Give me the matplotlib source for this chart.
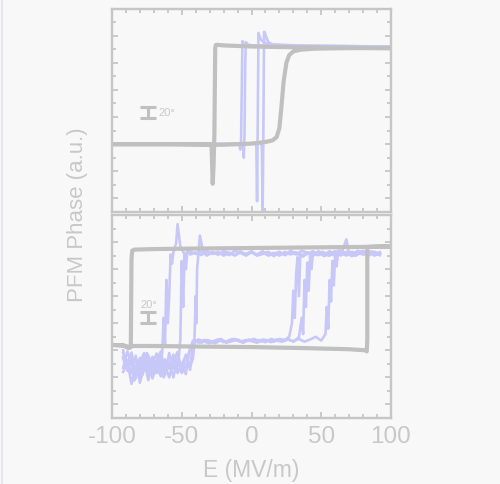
import matplotlib
matplotlib.use("Agg")
import matplotlib.pyplot as plt
from matplotlib.ticker import MultipleLocator
from matplotlib.lines import Line2D

plt.rcParams['font.family'] = ['Liberation Sans', 'DejaVu Sans']

# ---------------- data (E in MV/m, phase in degrees) ----------------
x_ticks = [-100, -50, 0, 50, 100]
x_tick_labels = ["-100", "-50", "0", "50", "100"]

# top panel, grey loop
top_grey = [(100, 277), (60, 278), (20, 279), (0, 280), (-10, 281), (-20, 282),
            (-24, 283), (-25.5, 283), (-26, 278), (-26.3, 200), (-26.6, 120),
            (-27.2, 60), (-27.8, 27), (-28.2, 60), (-28.6, 96), (-29.5, 100),
            (-40, 100), (-70, 100), (-100, 100), (-60, 100), (-30, 99), (-20, 99),
            (-10, 100), (0, 101), (10, 104), (15, 107), (18, 113), (20, 130),
            (21.5, 170), (23, 215), (25, 250), (27, 264), (30, 271), (35, 274),
            (45, 276), (70, 277), (100, 277)]

# top panel, lavender loops
top_lav_1 = [(-100, 100), (-40, 100), (-10, 101), (0, 102), (3, 103), (3.5, 95),
             (4, -5), (4.5, 150), (5, 305), (5.5, 300), (7, 292), (10, 286),
             (15, 283), (30, 281), (100, 280)]
top_lav_2 = [(-100, 100), (-20, 100), (0, 101), (7, 103), (7.5, 90), (8, -22),
             (8.5, 120), (9, 307), (9.5, 306), (10.5, 298), (12, 288), (15, 284),
             (40, 281), (100, 280)]
top_lav_3 = [(100, 280), (20, 281), (0, 282), (-3, 284), (-4, 288), (-4.5, 250),
             (-5, 120), (-5.5, 75), (-6, 95), (-7, 100), (-20, 100), (-100, 100)]
top_lav_4 = [(100, 280), (0, 282), (-5, 283), (-6.5, 290), (-7, 200), (-7.5, 100),
             (-8, 90), (-9, 100), (-100, 100)]

# bottom panel, grey loop
bot_grey = [(-100, 110), (-92, 109), (-88, 104), (-85, 108), (-70, 108), (-40, 107),
            (0, 106), (40, 104), (70, 102), (82, 100), (82.6, 98), (83, 120),
            (83, 290), (84, 291), (100, 292), (80, 291), (40, 290), (0, 289),
            (-40, 288), (-70, 287), (-84, 286), (-85.5, 284), (-86, 270),
            (-86.5, 112), (-87, 106), (-92, 109), (-100, 110)]

# bottom panel, lavender loops (forward sweeps)
bot_lav_f1 = [(-92, 100), (-89, 62), (-86, 85), (-83, 48), (-80, 78), (-77, 95),
              (-74, 60), (-71, 88), (-68, 70), (-65, 52), (-62, 83), (-59, 66),
              (-56, 92), (-53, 58), (-50, 74), (-47, 90), (-44, 64), (-42, 112),
              (-40, 118), (-36, 114), (-32, 119), (-28, 116), (-24, 120), (-20, 115),
              (-16, 118), (-12, 121), (-8, 116), (-4, 119), (0, 117), (4, 114),
              (8, 120), (12, 118), (16, 116), (20, 121), (24, 119), (27, 125),
              (29, 150), (30, 210), (31, 160), (32, 240), (33, 272), (34, 200),
              (35, 279), (37, 273), (40, 280), (44, 275), (48, 281), (52, 274),
              (56, 279), (60, 283), (64, 276), (68, 280), (72, 274), (76, 281),
              (80, 278), (84, 282), (88, 275), (92, 279)]
bot_lav_f2 = [(-92, 88), (-89, 70), (-86, 96), (-83, 55), (-80, 66), (-77, 82),
              (-74, 45), (-71, 76), (-68, 94), (-65, 61), (-62, 72), (-59, 50),
              (-56, 80), (-53, 97), (-50, 62), (-47, 70), (-44, 100), (-41, 115),
              (-38, 120), (-34, 116), (-30, 113), (-26, 118), (-22, 121), (-18, 114),
              (-14, 117), (-10, 120), (-6, 115), (-2, 118), (2, 121), (6, 116),
              (10, 119), (14, 115), (18, 120), (22, 117), (26, 121), (30, 116),
              (34, 124), (36, 160), (37, 130), (38, 230), (39, 180), (40, 262),
              (41, 210), (42, 275), (43, 250), (44, 280), (47, 276), (51, 282),
              (55, 275), (59, 280), (63, 285), (67, 277), (71, 281), (75, 275),
              (79, 283), (83, 277), (87, 281), (92, 276)]
bot_lav_f3 = [(-92, 95), (-89, 78), (-86, 58), (-83, 90), (-80, 40), (-77, 70),
              (-74, 85), (-71, 55), (-68, 80), (-65, 98), (-62, 60), (-59, 77),
              (-56, 50), (-53, 86), (-50, 68), (-47, 56), (-45, 95), (-42, 118),
              (-38, 114), (-34, 119), (-30, 117), (-26, 113), (-22, 119), (-18, 116),
              (-14, 121), (-10, 118), (-6, 114), (-2, 120), (2, 117), (6, 119),
              (10, 115), (14, 121), (18, 118), (22, 116), (26, 120), (30, 117),
              (34, 121), (38, 116), (42, 120), (46, 125), (50, 118), (53, 130),
              (54, 180), (55, 140), (56, 230), (57, 190), (58, 265), (59, 220),
              (60, 277), (61, 255), (62, 281), (64, 275), (68, 305), (70, 279),
              (74, 275), (78, 282), (82, 276), (86, 283), (89, 278), (92, 281)]
# bottom panel, lavender loops (backward sweeps)
bot_lav_b1 = [(92, 278), (88, 282), (84, 275), (80, 280), (76, 284), (72, 276),
              (68, 281), (64, 277), (60, 282), (56, 275), (52, 280), (48, 276),
              (44, 283), (40, 278), (36, 274), (32, 281), (28, 277), (24, 282),
              (20, 275), (16, 280), (12, 276), (8, 283), (4, 277), (0, 281),
              (-4, 275), (-8, 280), (-12, 284), (-16, 276), (-20, 281), (-24, 277),
              (-28, 282), (-32, 275), (-35, 286), (-37, 312), (-38, 280), (-39, 250),
              (-39.5, 150), (-40, 200), (-41, 110), (-42, 85), (-44, 70), (-47, 92),
              (-50, 58), (-53, 80), (-56, 66), (-59, 95), (-62, 55), (-65, 84),
              (-68, 72), (-71, 48), (-74, 90), (-77, 63), (-80, 86), (-83, 52),
              (-86, 75), (-89, 98), (-92, 68)]
bot_lav_b2 = [(92, 281), (88, 276), (84, 283), (80, 277), (76, 280), (72, 275),
              (68, 282), (64, 278), (60, 274), (56, 281), (52, 277), (48, 283),
              (44, 276), (40, 281), (36, 275), (32, 279), (28, 284), (24, 276),
              (20, 280), (16, 274), (12, 282), (8, 278), (4, 275), (0, 281),
              (-4, 277), (-8, 283), (-12, 276), (-16, 280), (-20, 275), (-24, 282),
              (-28, 278), (-32, 283), (-36, 276), (-40, 281), (-44, 277), (-46, 286),
              (-47, 250), (-48, 280), (-49, 180), (-50, 265), (-51, 120), (-52, 90),
              (-54, 62), (-57, 85), (-60, 70), (-63, 50), (-66, 88), (-69, 60),
              (-72, 78), (-75, 95), (-78, 55), (-81, 82), (-84, 44), (-87, 90),
              (-90, 70), (-92, 85)]
bot_lav_b3 = [(92, 276), (88, 281), (84, 277), (80, 284), (76, 278), (72, 282),
              (68, 275), (64, 280), (60, 276), (56, 283), (52, 277), (48, 281),
              (44, 275), (40, 280), (36, 284), (32, 277), (28, 281), (24, 276),
              (20, 282), (16, 278), (12, 275), (8, 281), (4, 276), (0, 283),
              (-4, 278), (-8, 281), (-12, 275), (-16, 280), (-20, 283), (-24, 277),
              (-28, 281), (-32, 276), (-36, 282), (-40, 278), (-44, 283), (-48, 277),
              (-51, 292), (-53, 333), (-54, 298), (-56, 281), (-57, 260), (-58, 277),
              (-59, 200), (-60, 150), (-61, 230), (-62, 110), (-63, 160), (-64, 95),
              (-66, 75), (-68, 58), (-71, 85), (-74, 66), (-77, 92), (-80, 50),
              (-83, 72), (-86, 38), (-89, 80), (-92, 60)]

# scale bars (E position, bottom, top)
bar_top = (-74.5, 149, 169)
bar_bot = (-74.5, 151, 171)

# ---------------- styling ----------------
BG = '#f8f8f8'
SPINE = '#c6c6c6'
TXT = '#c8c8c8'
GREY = '#c0c0c0'
LAV = '#c8c8f8'

fig = plt.figure(figsize=(5.0, 4.85), dpi=100, facecolor=BG)
ax1 = fig.add_axes([0.224, 0.5608, 0.558, 0.4196])
ax2 = fig.add_axes([0.224, 0.1361, 0.558, 0.4186])

fig.add_artist(Line2D([0.004, 0.004], [0, 1], transform=fig.transFigure,
                      color='#e2e2f4', lw=1.2))


def xy(pts):
    return [p[0] for p in pts], [p[1] for p in pts]


for ax in (ax1, ax2):
    ax.set_facecolor(BG)
    ax.set_xlim(-100, 100)
    ax.set_ylim(-25, 350)
    for s in ax.spines.values():
        s.set_color(SPINE)
        s.set_linewidth(1.7)
    ax.xaxis.set_major_locator(MultipleLocator(50))
    ax.xaxis.set_minor_locator(MultipleLocator(10))
    ax.yaxis.set_major_locator(MultipleLocator(50))
    ax.yaxis.set_minor_locator(MultipleLocator(25))
    ax.tick_params(which='both', direction='in', top=True, right=True,
                   color=SPINE, labelcolor=TXT, labelleft=False, width=1.3)
    ax.tick_params(which='major', length=4.5)
    ax.tick_params(which='minor', length=3)

ax1.tick_params(labelbottom=False)
ax2.set_xticks(x_ticks)
ax2.set_xticklabels(x_tick_labels, fontsize=17.5)
ax2.tick_params(axis='x', pad=5)
ax2.set_xlabel('E (MV/m)', fontsize=16.5, color=TXT, labelpad=8)
fig.text(0.155, 0.557, 'PFM Phase (a.u.)', rotation=90, fontsize=16,
         color=TXT, ha='center', va='center')

# lavender first, grey on top
for pts in (top_lav_1, top_lav_2, top_lav_3, top_lav_4):
    ax1.plot(*xy(pts), color=LAV, lw=1.9, solid_joinstyle='round')
ax1.plot(*xy(top_grey), color=GREY, lw=3.0, solid_joinstyle='round')

for pts in (bot_lav_f1, bot_lav_b1, bot_lav_f2, bot_lav_b2, bot_lav_f3, bot_lav_b3):
    ax2.plot(*xy(pts), color=LAV, lw=1.9, solid_joinstyle='round')
ax2.plot(*xy(bot_grey), color=GREY, lw=3.0, solid_joinstyle='round')

# scale bars
for ax, bar in ((ax1, bar_top), (ax2, bar_bot)):
    ax.errorbar([bar[0]], [(bar[1] + bar[2]) / 2], yerr=[(bar[2] - bar[1]) / 2],
                fmt='none', ecolor=GREY, elinewidth=2.2, capsize=5.5, capthick=2.2)
ax1.text(-66.5, 160, '20°', fontsize=8, color=TXT, ha='left', va='center')
ax2.text(-73.5, 176, '20°', fontsize=8, color=TXT, ha='center', va='bottom')

fig.savefig('out.png', dpi=100, facecolor=BG)
